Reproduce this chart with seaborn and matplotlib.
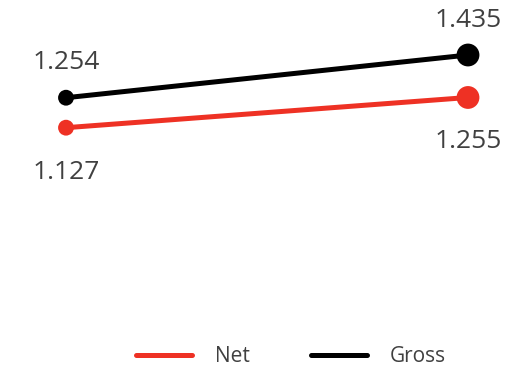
import matplotlib
matplotlib.use("Agg")
import matplotlib.pyplot as plt
import seaborn as sns
import pandas as pd

# Values for the two series at the two periods
periods = [0, 1]
net_values = [1.127, 1.255]
gross_values = [1.254, 1.435]
series_names = ["Net", "Gross"]
series_colors = {"Net": "#EE3124", "Gross": "#000000"}

df = pd.DataFrame({
    "period": periods * 2,
    "value": net_values + gross_values,
    "series": [series_names[0]] * 2 + [series_names[1]] * 2,
})
df["end"] = df["period"].map({0: "start", 1: "end"})

sns.set_theme(style="white")
plt.rcParams["font.family"] = ["Open Sans", "DejaVu Sans"]

fig = plt.figure(figsize=(5.20, 3.71), dpi=100)
ax = fig.add_axes([0, 0, 1, 1])

sns.lineplot(data=df, x="period", y="value", hue="series", palette=series_colors,
             linewidth=3.6, ax=ax, legend=True)
sns.scatterplot(data=df, x="period", y="value", hue="series", palette=series_colors,
                size="end", sizes={"start": 130, "end": 270}, linewidth=0,
                ax=ax, legend=False, zorder=5)

label_color = "#404040"
for name, vals in [("Net", net_values), ("Gross", gross_values)]:
    for x, v in zip(periods, vals):
        if name == "Gross":
            dy = 25
        else:
            dy = -32 if x == 0 else -32
        ax.annotate(f"{v:.3f}", (x, v), xytext=(0, dy), textcoords="offset points",
                    ha="center", va="center", fontsize=19, color=label_color)

ax.set_xlim(-66 / 402, 1 + 52 / 402)
ax.set_ylim(1.435 - 316 / 236, 1.435 + 55 / 236)
ax.axis("off")

handles, labels = ax.get_legend_handles_labels()
for h in handles:
    h.set_linewidth(3.6)
    h.set_solid_capstyle("round")
ax.legend_.remove()
fig.legend(handles, labels, loc="center", bbox_to_anchor=(291 / 520, 1 - 357 / 371),
           ncol=2, frameon=False, fontsize=15, handlelength=2.7, handletextpad=1.1,
           columnspacing=2.9, labelcolor=label_color)

fig.savefig("out.png", dpi=100)
